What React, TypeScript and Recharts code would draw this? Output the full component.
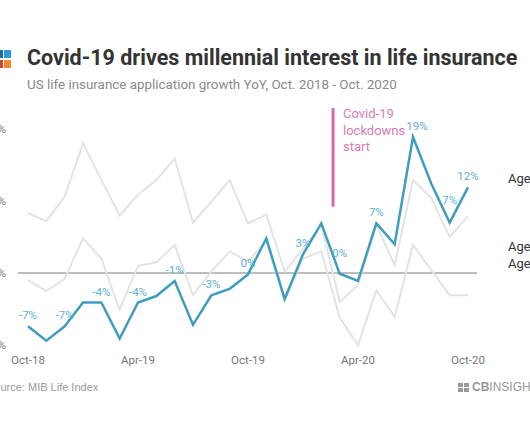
import React from 'react';
import {
  LineChart,
  Line,
  XAxis,
  YAxis,
  ReferenceLine,
  LabelList,
} from 'recharts';

// monthly points, Oct-18 .. Oct-20
const months = [
  'Oct-18', 'Nov-18', 'Dec-18', 'Jan-19', 'Feb-19', 'Mar-19', 'Apr-19', 'May-19', 'Jun-19',
  'Jul-19', 'Aug-19', 'Sep-19', 'Oct-19', 'Nov-19', 'Dec-19', 'Jan-20', 'Feb-20', 'Mar-20',
  'Apr-20', 'May-20', 'Jun-20', 'Jul-20', 'Aug-20', 'Sep-20', 'Oct-20',
];

const ages0to44 = [
  -7.4, -9.4, -7.4, -4.1, -4.1, -9.1, -4.1, -3.2, -1.1, -7.2, -3.1, -2.2, -0.2,
  4.8, -3.6, 2.6, 6.9, -0.1, -1.1, 6.9, 4.0, 18.9, 12.4, 7.0, 11.9,
];
const ages45to59 = [
  8.3, 7.2, 10.6, 18.0, 12.9, 8.0, 10.9, 12.9, 15.9, 7.0, 9.9, 12.9, 6.9,
  8.1, 0.2, 3.4, 6.7, -4.0, -1.7, 6.7, 1.1, 12.9, 10.4, 5.0, 7.9,
];
const ages60plus = [
  -1.0, -2.5, -0.8, 4.8, 2.0, -5.1, 1.0, 1.5, 3.9, -3.1, 0.2, 3.0, 1.6,
  4.5, -3.8, 2.0, 3.0, -6.2, -10.0, -2.4, -6.1, 3.9, 0.4, -3.1, -3.1,
];
const pointLabels = [
  '-7%', '', '-7%', '', '-4%', '', '-4%', '', '-1%', '', '-3%', '', '0%',
  '', '', '3%', '', '0%', '', '7%', '', '19%', '', '7%', '12%',
];

const yTicks = [-10, 0, 10, 20];
const xTicks = [0, 6, 12, 18, 24];
const seriesNames = ['Ages 0-44', 'Ages 45-59', 'Ages 60+'];

const data = months.map((m, i) => ({
  i,
  month: m,
  young: ages0to44[i],
  mid: ages45to59[i],
  old: ages60plus[i],
  lbl: pointLabels[i],
}));

// a few labels are nudged in the original
const labelLift: Record<number, number> = { 17: 10, 23: 12 };
const labelShift: Record<number, number> = { 21: 4 };

const BLUE = '#3f9ec0';
const BLUE_TEXT = '#5cb0d2';
const GRAY = '#e3e3e3';
const PINK = '#d46aa5';

const PointLabel = (props: any) => {
  const { x, y, value, index } = props;
  if (!value) return null;
  const lift = labelLift[index] || 0;
  const shift = labelShift[index] || 0;
  return (
    <text x={x + shift} y={y - 7 - lift} textAnchor="middle" fill={BLUE_TEXT} fontSize={11.5} fontFamily="Roboto">
      {value}
    </text>
  );
};

export default function App() {
  return (
    <div style={{ position: 'absolute', left: 0, top: 0, width: 530, height: 442, overflow: 'hidden', background: '#fff', fontFamily: 'Roboto' }}>
      {/* logo squares */}
      <div style={{ position: 'absolute', left: -4, top: 50, width: 7, height: 8, background: '#1d6fa8' }} />
      <div style={{ position: 'absolute', left: 4, top: 50, width: 7, height: 8, background: '#2d9ad6' }} />
      <div style={{ position: 'absolute', left: -4, top: 60, width: 7, height: 8, background: '#d9452c' }} />
      <div style={{ position: 'absolute', left: 4, top: 60, width: 7, height: 8, background: '#f08a2c' }} />

      <div style={{ position: 'absolute', left: 27, top: 45, fontSize: 21.5, fontWeight: 700, color: '#333', whiteSpace: 'nowrap' }}>
        Covid-19 drives millennial interest in life insurance
      </div>
      <div style={{ position: 'absolute', left: 27, top: 77, fontSize: 13.4, color: '#8a8a8a', whiteSpace: 'nowrap' }}>
        US life insurance application growth YoY, Oct. 2018 - Oct. 2020
      </div>

      <div style={{ position: 'absolute', left: 343, top: 106, fontSize: 13, lineHeight: '16.5px', color: '#d87db3' }}>
        Covid-19<br />lockdowns<br />start
      </div>

      <div style={{ position: 'absolute', left: 508, top: 171, fontSize: 13, color: '#333', whiteSpace: 'nowrap' }}>{seriesNames[0]}</div>
      <div style={{ position: 'absolute', left: 508, top: 239, fontSize: 13, color: '#333', whiteSpace: 'nowrap' }}>{seriesNames[1]}</div>
      <div style={{ position: 'absolute', left: 508, top: 256, fontSize: 13, color: '#333', whiteSpace: 'nowrap' }}>{seriesNames[2]}</div>

      <div style={{ position: 'absolute', left: -13, top: 381, fontSize: 11, color: '#999', fontFamily: 'Liberation Sans', whiteSpace: 'nowrap' }}>
        Source: MIB Life Index
      </div>
      <div style={{ position: 'absolute', left: 458, top: 383, width: 5, height: 4, background: '#999' }} />
      <div style={{ position: 'absolute', left: 464, top: 383, width: 5, height: 4, background: '#999' }} />
      <div style={{ position: 'absolute', left: 458, top: 388, width: 5, height: 4, background: '#999' }} />
      <div style={{ position: 'absolute', left: 464, top: 388, width: 5, height: 4, background: '#999' }} />
      <div style={{ position: 'absolute', left: 472, top: 380, fontSize: 12, color: '#999', fontFamily: 'Liberation Sans', whiteSpace: 'nowrap' }}>
        <b>CB</b>INSIGHTS
      </div>

      <div style={{ position: 'absolute', left: 0, top: 0 }}>
        <LineChart width={530} height={442} data={data} margin={{ top: 129, right: 53, bottom: 67, left: 0 }}>
          <XAxis
            dataKey="i"
            type="number"
            domain={[0, 24]}
            ticks={xTicks}
            tickFormatter={(v: number) => months[v]}
            padding={{ left: 10, right: 9 }}
            axisLine={false}
            tickLine={false}
            tickMargin={5}
            height={30}
            tick={{ fill: '#777', fontSize: 11.5, fontFamily: 'Roboto' }}
          />
          <YAxis
            domain={[-10, 20]}
            ticks={yTicks}
            tickFormatter={(v: number) => `${v}%`}
            width={18}
            axisLine={false}
            tickLine={false}
            tickMargin={6}
            tick={{ fill: '#777', fontSize: 11.5, fontFamily: 'Roboto' }}
          />
          <ReferenceLine y={0} stroke="#a8a8a8" strokeWidth={1.5} />
          <ReferenceLine
            segment={[{ x: 16.64, y: 22.9 }, { x: 16.64, y: 9.2 }]}
            stroke={PINK}
            strokeWidth={3}
            ifOverflow="visible"
          />
          <Line dataKey="mid" stroke={GRAY} strokeWidth={2} dot={false} isAnimationActive={false} />
          <Line dataKey="old" stroke={GRAY} strokeWidth={2} dot={false} isAnimationActive={false} />
          <Line dataKey="young" stroke={BLUE} strokeWidth={2.5} dot={false} isAnimationActive={false}>
            <LabelList dataKey="lbl" content={PointLabel} />
          </Line>
        </LineChart>
      </div>
    </div>
  );
}
